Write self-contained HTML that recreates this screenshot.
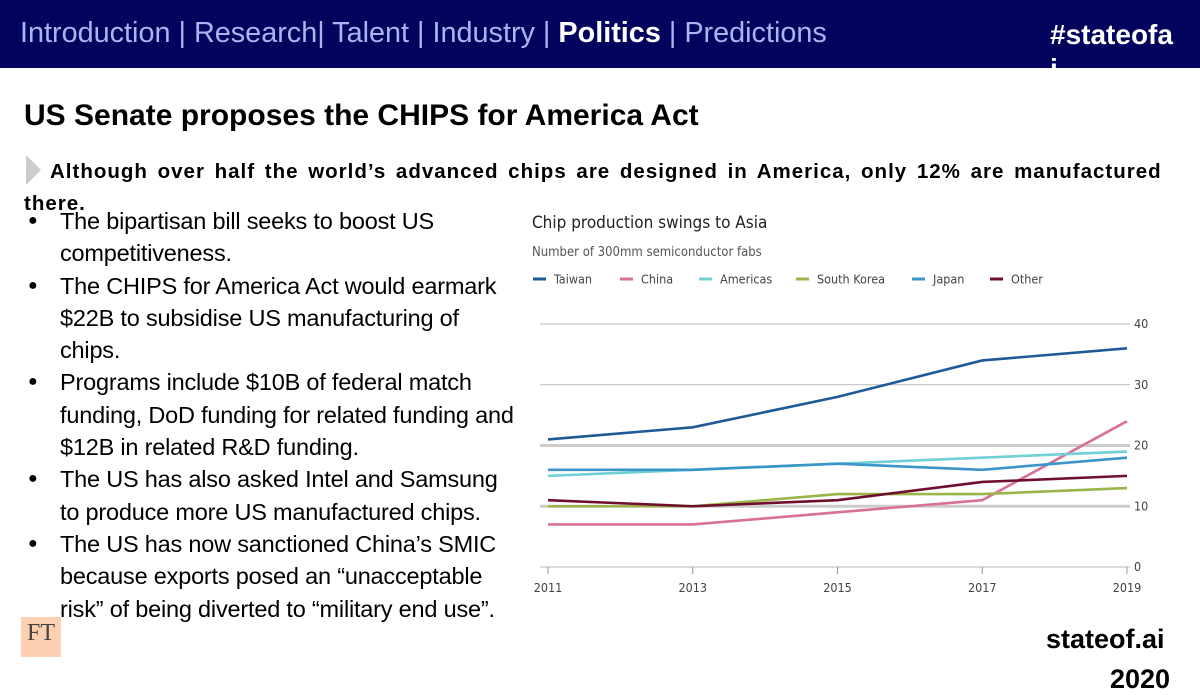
<!DOCTYPE html>
<html><head><meta charset="utf-8"><style>
body{margin:0;width:1200px;height:675px;overflow:hidden;background:#fff;font-family:"Liberation Sans",sans-serif;position:relative}
.hdr{position:absolute;left:0;top:0;width:1200px;height:68px;background:#03035e;overflow:hidden}
.nav{position:absolute;left:20px;top:17px;font-size:28.8px;color:#a9b4f0;white-space:nowrap}
.nav b{color:#fff}
.tag{position:absolute;left:1050px;top:18px;width:124px;font-size:28px;font-weight:bold;color:#fff;line-height:34px;word-break:break-all}
h1{position:absolute;left:24px;top:99px;margin:0;font-size:30px}
.sub{position:absolute;left:24px;top:156px;width:1150px;font-size:20.5px;font-weight:bold;line-height:32px;text-indent:26px;letter-spacing:1px;word-spacing:3px}
.arrow{position:absolute;left:26px;top:155px;width:0;height:0;border-top:15px solid transparent;border-bottom:15px solid transparent;border-left:15px solid #ccc}
ul{position:absolute;left:24px;top:205px;margin:0;padding:0;list-style:none;width:496px;font-size:23.5px;line-height:32.3px;letter-spacing:-0.2px}
li{padding-left:36px;position:relative}
li:before{content:"●";position:absolute;left:4px;font-size:16px}
.ft{position:absolute;left:21px;top:617px;width:40px;height:40px;background:#fcd0b0;font-family:"Liberation Serif",serif;font-size:24px;color:#444;text-align:center;line-height:32px}
.sa{position:absolute;left:1046px;top:624px;font-size:27px;font-weight:bold}
.sa2{position:absolute;left:1110px;top:664px;font-size:27px;font-weight:bold}
</style></head><body>
<div class="hdr">
<div class="nav">Introduction | Research| Talent | Industry | <b>Politics</b> | Predictions</div>
<div class="tag">#stateofai</div>
</div>
<h1>US Senate proposes the CHIPS for America Act</h1>
<div class="arrow"></div>
<div class="sub">Although over half the world’s advanced chips are designed in America, only 12% are manufactured there.</div>
<ul>
<li>The bipartisan bill seeks to boost US competitiveness.</li>
<li>The CHIPS for America Act would earmark $22B to subsidise US manufacturing of chips.</li>
<li>Programs include $10B of federal match funding, DoD funding for related funding and $12B in related R&amp;D funding.</li>
<li>The US has also asked Intel and Samsung to produce more US manufactured chips.</li>
<li>The US has now sanctioned China’s SMIC because exports posed an “unacceptable risk” of being diverted to “military end use”.</li>
</ul>
<div class="ft">FT</div>
<div class="sa">stateof.ai</div>
<div class="sa2">2020</div>
<svg id="chart" width="1200" height="675" style="position:absolute;left:0;top:0"></svg>
<script>
const years=[2011,2013,2015,2017,2019];
const yTicks=[0,10,20,30,40];
const seriesNames=["Taiwan","China","Americas","South Korea","Japan","Other"];
const seriesColors=["#1f5a96","#d9709a","#6fd0d6","#9bb54a","#3a95c8","#6e0f2e"];
const taiwan=[21,23,28,34,36];
const china=[7,7,9,11,24];
const americas=[15,16,17,18,19];
const southKorea=[10,10,12,12,13];
const japan=[16,16,17,16,18];
const other=[11,10,11,14,15];
const allSeries=[taiwan,china,americas,southKorea,japan,other];
const NS="http://www.w3.org/2000/svg",svg=document.getElementById('chart');
const x=v=>548+(v-2011)/8*579, y=v=>567-v*6.075;
function mk(t,a,txt){const e=document.createElementNS(NS,t);for(const k in a)e.setAttribute(k,a[k]);if(txt!==undefined)e.textContent=txt;svg.appendChild(e);return e;}
const F='"DejaVu Sans Condensed","DejaVu Sans",sans-serif';
let e=mk('text',{x:532,y:228,'font-size':17,'font-family':F,fill:'#222'},'Chip production swings to Asia');

e=mk('text',{x:532,y:256,'font-size':13,'font-family':F,fill:'#555'},'Number of 300mm semiconductor fabs');

const lx=[533,620,699,796,912,990];
seriesNames.forEach((n,i)=>{
 const l=mk('line',{x1:lx[i],x2:lx[i]+13,y1:279,y2:279,stroke:seriesColors[i],'stroke-width':3});
 
 const t=mk('text',{x:lx[i]+21,y:283.5,'font-size':12.5,'font-family':F,fill:'#444'},n);
 
});
yTicks.forEach(v=>{
 const g=mk('line',{x1:540,x2:1130,y1:y(v),y2:y(v),stroke:(v==10||v==20)?'#ccc':'#bbb','stroke-width':(v==10||v==20)?3:1});
 
 const t=mk('text',{x:1134,y:y(v)+4,'font-size':12.5,'font-family':F,fill:'#444'},v);
 
});
years.forEach(v=>{
 const tk=mk('line',{x1:x(v),x2:x(v),y1:567,y2:574,stroke:'#999'});
 
 const t=mk('text',{x:x(v),y:592,'font-size':12.5,'font-family':F,fill:'#444','text-anchor':'middle'},v);
 
});
allSeries.forEach((s,i)=>{
 const p=mk('polyline',{points:s.map((v,j)=>x(years[j])+','+y(v)).join(' '),fill:'none',stroke:seriesColors[i],'stroke-width':2.6});
 
 
});
</script>
</body></html>
